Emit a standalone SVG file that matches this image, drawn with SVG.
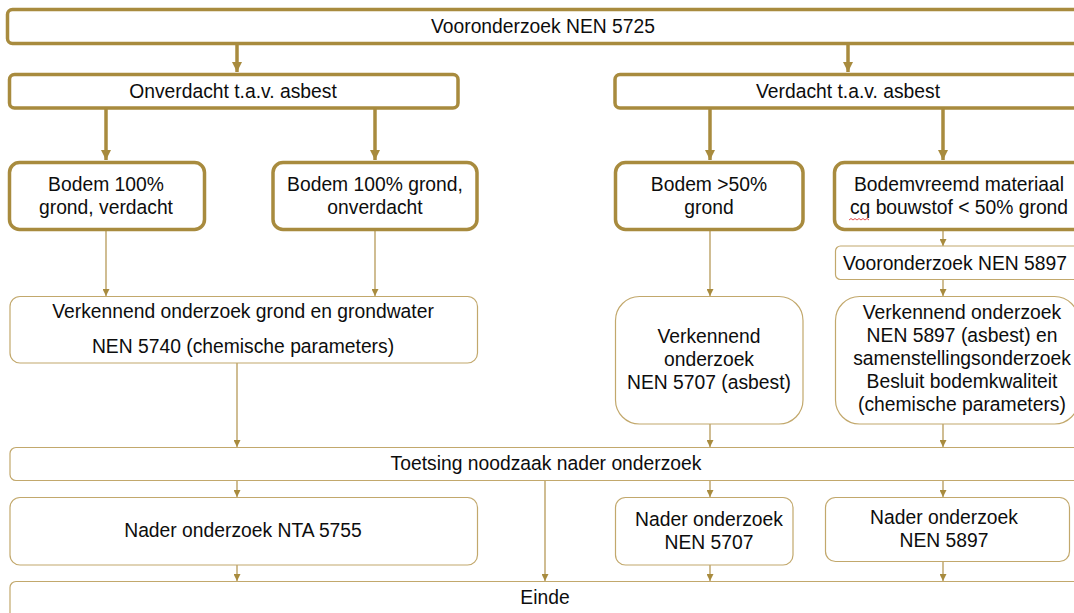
<svg xmlns="http://www.w3.org/2000/svg" width="1074" height="613" viewBox="0 0 1074 613">
<defs>
<style>
.thick{fill:#fff;stroke:#A88B3E;stroke-width:3.5}
.thin{fill:#fff;stroke:#C2A86C;stroke-width:1.2}
.t{font-family:"Liberation Sans",Arial,sans-serif;font-size:19.3px;fill:#0d0d0d;text-anchor:middle}
.ct{stroke:#A88B3E;stroke-width:3.5;fill:none}
.cn{stroke:#B0914A;stroke-width:1.2;fill:none}
</style>
<marker id="ah" viewBox="0 0 10 10" refX="10" refY="5" markerWidth="3" markerHeight="3" orient="auto" markerUnits="strokeWidth"><path d="M0,0 L10,5 L0,10 z" fill="#A88B3E"/></marker>
<marker id="as" viewBox="0 0 10 10" refX="10" refY="5" markerWidth="7" markerHeight="7" orient="auto" markerUnits="userSpaceOnUse"><path d="M0,0 L10,5 L0,10 z" fill="#A88B3E"/></marker>
</defs>
<rect width="1074" height="613" fill="#fff"/>
<g id="connectors">
<line class="ct" x1="237" y1="44" x2="237" y2="72" marker-end="url(#ah)"/>
<line class="ct" x1="848" y1="44" x2="848" y2="72" marker-end="url(#ah)"/>
<line class="ct" x1="106" y1="109" x2="106" y2="160" marker-end="url(#ah)"/>
<line class="ct" x1="375" y1="109" x2="375" y2="160" marker-end="url(#ah)"/>
<line class="ct" x1="710" y1="109" x2="710" y2="160" marker-end="url(#ah)"/>
<line class="ct" x1="943" y1="109" x2="943" y2="160" marker-end="url(#ah)"/>
<line class="cn" x1="106" y1="231" x2="106" y2="296" marker-end="url(#as)"/>
<line class="cn" x1="375" y1="231" x2="375" y2="296" marker-end="url(#as)"/>
<line class="cn" x1="710" y1="231" x2="710" y2="296" marker-end="url(#as)"/>
<line class="cn" x1="943" y1="231" x2="943" y2="246" marker-end="url(#as)"/>
<line class="cn" x1="943" y1="280" x2="943" y2="296" marker-end="url(#as)"/>
<line class="cn" x1="237" y1="363" x2="237" y2="447" marker-end="url(#as)"/>
<line class="cn" x1="710" y1="424" x2="710" y2="447" marker-end="url(#as)"/>
<line class="cn" x1="943" y1="424" x2="943" y2="447" marker-end="url(#as)"/>
<line class="cn" x1="237" y1="480" x2="237" y2="497" marker-end="url(#as)"/>
<line class="cn" x1="710" y1="480" x2="710" y2="497" marker-end="url(#as)"/>
<line class="cn" x1="943" y1="480" x2="943" y2="497" marker-end="url(#as)"/>
<line class="cn" x1="545" y1="480" x2="545" y2="581" marker-end="url(#as)"/>
<line class="cn" x1="237" y1="565" x2="237" y2="581" marker-end="url(#as)"/>
<line class="cn" x1="710" y1="565" x2="710" y2="581" marker-end="url(#as)"/>
<line class="cn" x1="943" y1="561" x2="943" y2="581" marker-end="url(#as)"/>
</g>
<g id="n-voor5725">
<rect class="thick" x="7.5" y="9.5" width="1075" height="34" rx="5"/>
<text class="t" x="543" y="33">Vooronderzoek NEN 5725</text>
</g>
<g id="n-onverdacht">
<rect class="thick" x="9.5" y="74.5" width="448.5" height="33.5" rx="5"/>
<text class="t" x="233" y="97.5">Onverdacht t.a.v. asbest</text>
</g>
<g id="n-verdacht">
<rect class="thick" x="615" y="74.5" width="470" height="33.5" rx="5"/>
<text class="t" x="848" y="97.5">Verdacht t.a.v. asbest</text>
</g>
<g id="n-bodem100v">
<rect class="thick" x="9.5" y="162.5" width="195" height="67" rx="10"/>
<text class="t" x="106" y="190.5">Bodem 100%</text>
<text class="t" x="106" y="213.5">grond, verdacht</text>
</g>
<g id="n-bodem100o">
<rect class="thick" x="273" y="162.5" width="204" height="67" rx="10"/>
<text class="t" x="375" y="190.5">Bodem 100% grond,</text>
<text class="t" x="375" y="213.5">onverdacht</text>
</g>
<g id="n-bodem50">
<rect class="thick" x="615.5" y="162.5" width="187.5" height="67" rx="10"/>
<text class="t" x="709" y="190.5">Bodem &gt;50%</text>
<text class="t" x="709" y="213.5">grond</text>
</g>
<g id="n-bodemvreemd">
<rect class="thick" x="834.5" y="162.5" width="250" height="67" rx="10"/>
<text class="t" x="959" y="190.5">Bodemvreemd materiaal</text>
<text class="t" x="959" y="213.5">cq bouwstof &lt; 50% grond</text>
<path d="M849,220 l2,-1.5 l2,1.5 l2,-1.5 l2,1.5 l2,-1.5 l2,1.5 l2,-1.5 l2,1.5 l2,-1.5 l2,1.5" fill="none" stroke="#E04040" stroke-width="0.9"/>
</g>
<g id="n-voor5897">
<rect class="thin" x="835.5" y="246" width="250" height="33.5" rx="5"/>
<text class="t" x="955" y="270">Vooronderzoek NEN 5897</text>
</g>
<g id="n-verk5740">
<rect class="thin" x="10" y="296.5" width="467.5" height="66.5" rx="10"/>
<text class="t" x="243" y="318">Verkennend onderzoek grond en grondwater</text>
<text class="t" x="243" y="352.5">NEN 5740 (chemische parameters)</text>
</g>
<g id="n-verk5707">
<rect class="thin" x="615.5" y="296.5" width="187.5" height="127.5" rx="24"/>
<text class="t" x="709" y="342.5">Verkennend</text>
<text class="t" x="709" y="365.5">onderzoek</text>
<text class="t" x="709" y="388.5">NEN 5707 (asbest)</text>
</g>
<g id="n-verk5897">
<rect class="thin" x="835.5" y="296.5" width="243" height="127.5" rx="24"/>
<text class="t" x="962" y="319">Verkennend onderzoek</text>
<text class="t" x="962" y="342">NEN 5897 (asbest) en</text>
<text class="t" x="962" y="365">samenstellingsonderzoek</text>
<text class="t" x="962" y="388">Besluit bodemkwaliteit</text>
<text class="t" x="962" y="411">(chemische parameters)</text>
</g>
<g id="n-toetsing">
<rect class="thin" x="10" y="447.5" width="1075" height="33" rx="6"/>
<text class="t" x="546" y="470">Toetsing noodzaak nader onderzoek</text>
</g>
<g id="n-nader5755">
<rect class="thin" x="10" y="497.5" width="467.5" height="67.5" rx="10"/>
<text class="t" x="243" y="537">Nader onderzoek NTA 5755</text>
</g>
<g id="n-nader5707">
<rect class="thin" x="615.5" y="497.5" width="177.5" height="67.5" rx="10"/>
<text class="t" x="709" y="525.5">Nader onderzoek</text>
<text class="t" x="709" y="548.5">NEN 5707</text>
</g>
<g id="n-nader5897">
<rect class="thin" x="825.5" y="497.5" width="244" height="64" rx="10"/>
<text class="t" x="944" y="523.5">Nader onderzoek</text>
<text class="t" x="944" y="546.5">NEN 5897</text>
</g>
<g id="n-einde">
<rect class="thin" x="10" y="581.5" width="1075" height="45" rx="6"/>
<text class="t" x="545" y="604">Einde</text>
</g>
</svg>
